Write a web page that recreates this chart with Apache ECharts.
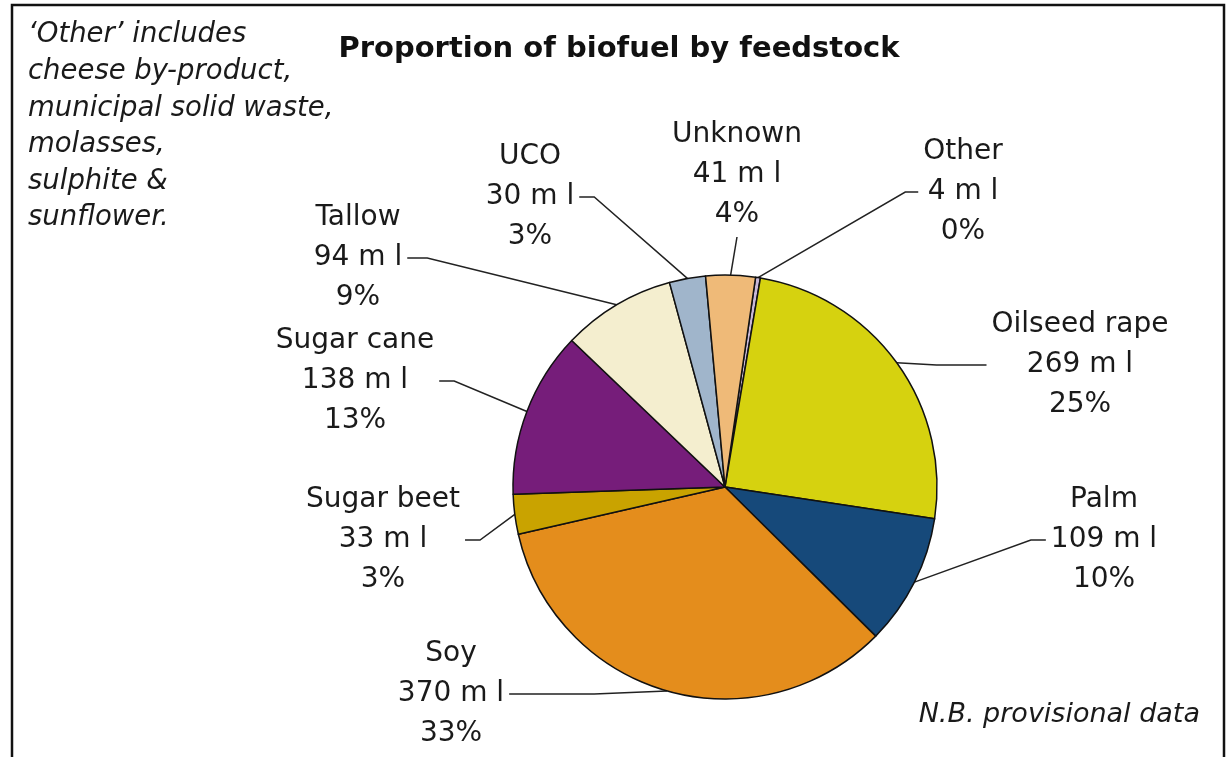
<!DOCTYPE html>
<html>
<head>
	<meta charset="utf-8">
	<title>Proportion of biofuel by feedstock</title>
	<script src="https://cdn.jsdelivr.net/npm/echarts@6.0.0/dist/echarts.min.js"></script>
	<style>
		html, body { margin: 0; padding: 0; background: #fff; }
		#chart { width: 1228px; height: 757px; }
	</style>
</head>
<body>
	<div id="chart"></div>
	<script>
		// feedstock, clockwise from the top of the pie
		var feedstocks = ['Other', 'Oilseed rape', 'Palm', 'Soy', 'Sugar beet', 'Sugar cane', 'Tallow', 'UCO', 'Unknown'];
		var volumes = [4, 269, 109, 370, 33, 138, 94, 30, 41];   // million litres
		var shares = ['0%', '25%', '10%', '33%', '3%', '13%', '9%', '3%', '4%'];

		var colors = ['#c8b8d8', '#d6d20f', '#16497a', '#e48d1c', '#c9a300', '#761d7a', '#f4eecf', '#a0b5cb', '#efba78'];

		// where each label sits (centre of the text block) and which side the leader leaves from
		var labelPlaces = [
			{ x: 963, y: 192, side: 'left', stub: 13 },
			{ x: 1080, y: 365, side: 'left', stub: 50 },
			{ x: 1104, y: 540, side: 'left', stub: 15 },
			{ x: 451, y: 694, side: 'right', stub: 85 },
			{ x: 383, y: 540, side: 'right', stub: 15 },
			{ x: 355, y: 381, side: 'right', stub: 15 },
			{ x: 358, y: 258, side: 'right', stub: 20 },
			{ x: 530, y: 197, side: 'right', stub: 15 },
			{ x: 737, y: 175, side: 'bottom', stub: 0 }
		];

		var txt = '#1a1a1a';
		var chart = echarts.init(document.getElementById('chart'));

		var pieData = feedstocks.map(function (name, i) {
			return { name: name, value: volumes[i], itemStyle: { color: colors[i] } };
		});

		var option = {
			animation: false,
			graphic: [
				{
					type: 'rect', silent: true,
					shape: { x: 12, y: 5, width: 1212, height: 800 },
					style: { fill: 'none', stroke: '#111', lineWidth: 2.5 }
				},
				{
					type: 'text', x: 619, y: 49,
					style: {
						text: 'Proportion of biofuel by feedstock',
						font: 'bold 29px "DejaVu Sans"', fill: '#111',
						textAlign: 'center', textVerticalAlign: 'middle'
					}
				},
				{
					type: 'text', x: 28, y: 17,
					style: {
						text: "\u2018Other\u2019 includes\ncheese by-product,\nmunicipal solid waste,\nmolasses,\nsulphite &\nsunflower.",
						font: 'italic 27.5px "DejaVu Sans"', fill: txt,
						lineHeight: 36.6, textAlign: 'left', textVerticalAlign: 'top'
					}
				},
				{
					type: 'text', x: 1200, y: 715,
					style: {
						text: 'N.B. provisional data',
						font: 'italic 27px "DejaVu Sans"', fill: txt,
						textAlign: 'right', textVerticalAlign: 'middle'
					}
				}
			],
			series: [{
				type: 'pie',
				center: [725, 487],
				radius: 212,
				startAngle: 81.7,
				clockwise: true,
				avoidLabelOverlap: false,
				silent: true,
				data: pieData,
				itemStyle: { borderColor: '#111', borderWidth: 1.5 },
				label: {
					show: true,
					position: 'outside',
					color: txt,
					fontFamily: 'DejaVu Sans',
					fontSize: 28,
					lineHeight: 40,
					align: 'center',
					formatter: function (p) {
						return p.name + '\n' + p.value + ' m l\n' + shares[p.dataIndex];
					}
				},
				labelLine: {
					show: true,
					length: 10,
					length2: 10,
					lineStyle: { color: '#222', width: 1.5 }
				},
				labelLayout: function (p) {
					var pl = labelPlaces[p.dataIndex];
					var w = p.labelRect.width, h = p.labelRect.height;
					var anchor = p.labelLinePoints[0];
					var pts;
					if (pl.side === 'bottom') {
						var by = pl.y + h / 2 + 2;
						pts = [anchor, [pl.x, by], [pl.x, by]];
					} else {
						var dir = pl.side === 'left' ? -1 : 1;
						var ex = pl.x + dir * (w / 2 + 5);
						pts = [anchor, [ex + dir * pl.stub, pl.y], [ex, pl.y]];
					}
					return {
						x: pl.x, y: pl.y,
						align: 'center', verticalAlign: 'middle',
						labelLinePoints: pts
					};
				}
			}]
		};
		chart.setOption(option);
	</script>
</body>
</html>
